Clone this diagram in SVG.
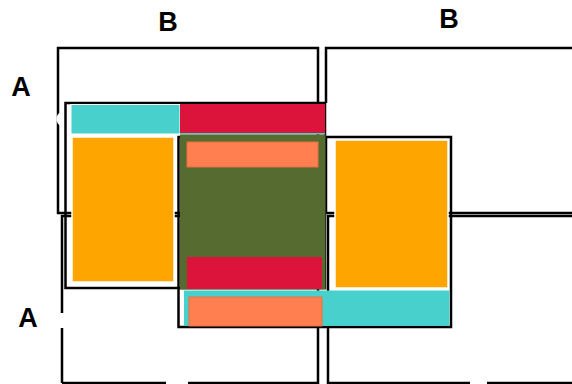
<svg xmlns="http://www.w3.org/2000/svg" width="572" height="384" viewBox="0 0 572 384">
<style>
.ln{fill:none;stroke:#000;stroke-width:2.5}
.lbl{font-family:"Liberation Sans",Arial,sans-serif;font-weight:bold;font-size:27px;fill:#000;text-anchor:middle}
.cy{fill:#48D1CC}
.rd{fill:#DC143C}
.or{fill:#FFA500;stroke:#fff;stroke-width:1.5}
.gr{fill:#556B2F}
.sa{fill:#FF7F50;stroke:#E8703F;stroke-width:1}
</style>
<rect width="572" height="384" fill="#fff"/>
<g id="grid">
<rect id="cell-tl" class="ln" x="58" y="48" width="260" height="165"/>
<path id="cell-tr" class="ln" d="M575 48H326V103M326 137V213H575"/>
<path id="cell-bl" class="ln" d="M62 383V216H318V384M62 383H318"/>
<path id="cell-br" class="ln" d="M328 384V216H575M328 383H575"/>
<ellipse cx="61" cy="119" rx="4.5" ry="6.5" fill="#fff"/>
<rect x="56" y="313" width="10" height="15" fill="#fff"/>
<rect x="166" y="380" width="22" height="5" fill="#fff"/>
<rect x="470" y="380" width="17" height="5" fill="#fff"/>
</g>
<g id="frames">
<rect id="frame1" class="ln" x="65.5" y="103" width="259.5" height="185"/>
<rect id="frame2" class="ln" x="178.5" y="137" width="272.5" height="190"/>
</g>
<g id="blocks">
<rect class="cy" x="71" y="104.5" width="109" height="29.5" stroke="#fff" stroke-width="1"/>
<rect class="rd" x="180" y="104" width="145" height="29"/>
<rect class="cy" x="180" y="133" width="145" height="1.5"/>
<rect class="gr" x="180" y="134.5" width="145.5" height="155"/>
<rect class="sa" x="187" y="142" width="131" height="25"/>
<rect class="rd" x="187" y="257" width="135" height="32"/>
<rect class="cy" x="184" y="290.5" width="265.5" height="35.5"/>
<rect class="sa" x="189" y="297" width="133" height="29" stroke="none"/>
<rect class="or" x="72" y="137" width="102" height="145"/>
<rect class="or" x="335" y="140" width="113" height="148"/>
</g>
<g id="labels">
<text class="lbl" x="168" y="31">B</text>
<text class="lbl" x="449" y="28">B</text>
<text class="lbl" x="21" y="96">A</text>
<text class="lbl" x="28" y="327">A</text>
</g>
</svg>
